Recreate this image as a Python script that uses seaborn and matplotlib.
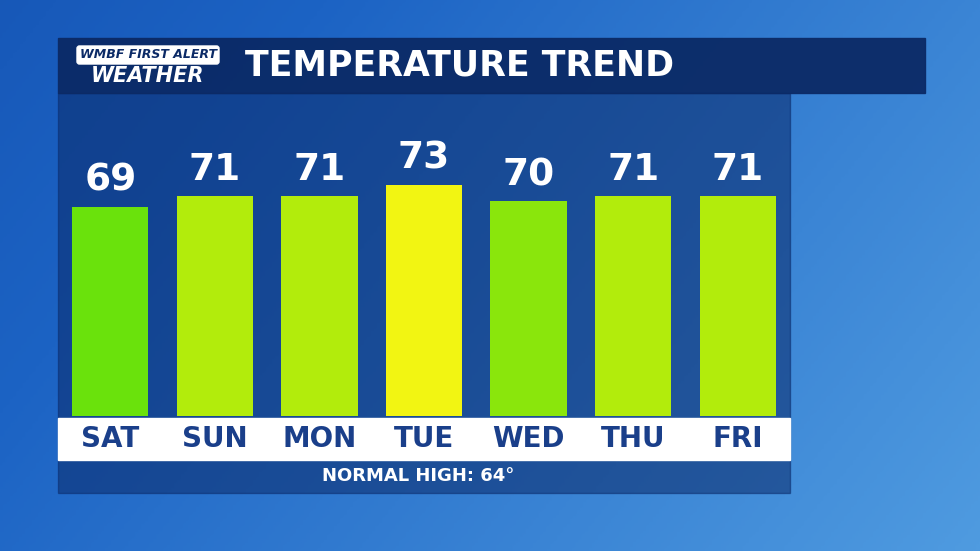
import numpy as np
import pandas as pd
import matplotlib.pyplot as plt
import seaborn as sns
from matplotlib.patches import Rectangle

days = ['SAT', 'SUN', 'MON', 'TUE', 'WED', 'THU', 'FRI']
highs = [69, 71, 71, 73, 70, 71, 71]
bar_colors = ['#6ae20c', '#b2ec0c', '#b2ec0c', '#f2f512', '#8ae60c', '#b2ec0c', '#b2ec0c']
title = 'TEMPERATURE TREND'
normal_text = 'NORMAL HIGH: 64°'

W, H = 980, 551
fig = plt.figure(figsize=(9.8, 5.51), dpi=100)

def fx(px):
    return px / W

def fy(py):
    return 1 - py / H

# sky-blue background
bg = fig.add_axes([0, 0, 1, 1])
yy, xx = np.mgrid[0:1:200j, 0:1:300j]
grad = 0.35 + 0.45 * xx + 0.2 * yy
bg.imshow(grad, cmap=sns.blend_palette(['#0c3f9c', '#1c63c4', '#4f9be0'], as_cmap=True),
          extent=[0, 1, 0, 1], aspect='auto', vmin=0, vmax=1)
bg.add_patch(Rectangle((fx(58), fy(493)), fx(732), fy(93) - fy(493), color='#0a2a6a', alpha=0.55))
bg.add_patch(Rectangle((fx(58), fy(93)), fx(867), fy(38) - fy(93), color='#0b2a66', alpha=0.95))
bg.add_patch(Rectangle((fx(58), fy(460)), fx(732), fy(418) - fy(460), color='white'))
bg.text(fx(245), fy(66), title, color='white', fontsize=25, fontweight='bold',
        va='center', ha='left', family='DejaVu Sans')
bg.text(fx(148), fy(55), 'WMBF FIRST ALERT', color='#0b2a66', fontsize=9, fontweight='bold',
        style='italic', ha='center', va='center',
        bbox=dict(boxstyle='round,pad=0.2', fc='white', ec='white'))
bg.text(fx(148), fy(76), 'WEATHER', color='white', fontsize=15, fontweight='bold',
        style='italic', ha='center', va='center')
for i, d in enumerate(days):
    bg.text(fx(58 + 104.6 * (i + 0.5)), fy(439), d, color='#1a3f8a', fontsize=20,
            fontweight='bold', ha='center', va='center')
bg.text(fx(418), fy(476), normal_text, color='white', fontsize=13, fontweight='bold',
        ha='center', va='center')
bg.set_xlim(0, 1)
bg.set_ylim(0, 1)
bg.axis('off')

# bars
ax = fig.add_axes([fx(58), fy(416), fx(732), fy(93) - fy(416)])
df = pd.DataFrame({'day': days, 'high': highs})
sns.barplot(data=df, x='day', y='high', hue='day', palette=bar_colors, legend=False,
            width=0.73, ax=ax, saturation=1)
ax.set_xlim(-0.5, 6.5)
ax.set_ylim(31, 89.7)
for i, v in enumerate(highs):
    ax.text(i, v + 1.5, str(v), color='white', fontsize=27, fontweight='bold',
            ha='center', va='bottom')
ax.axis('off')

fig.savefig('out.png', dpi=100)
